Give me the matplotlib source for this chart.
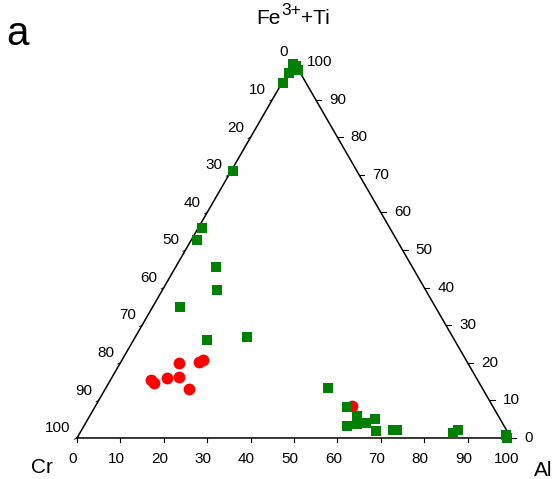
import numpy as np
import matplotlib.pyplot as plt

plt.rcParams['font.family'] = ['Liberation Sans', 'DejaVu Sans']

# ternary values in % (Cr is the rest)
al_green = [0, 1, 2, 0.9, 0.3, 0.2, 0.5, 0.9, 1.3, 9.3, 12.6, 6.3, 16.9, 25.7,
            51.2, 58.1, 61.6, 60.6, 62.7, 64.6, 66.1, 68.0, 71.8, 72.7, 86.0, 86.7, 98.5, 99.1]
fe_green = [99.5, 99, 98, 98.2, 97.1, 94.5, 71.0, 55.9, 52.7, 45.5, 39.4, 34.9, 26.1, 26.9,
            13.3, 8.3, 5.9, 3.2, 3.7, 4.0, 5.1, 1.9, 2.1, 2.1, 1.3, 2.1, 0.8, 0.0]
cr_green = [100 - a - f for a, f in zip(al_green, fe_green)]

al_red = [9.3, 10.4, 12.8, 13.5, 15.4, 19.3, 18.0, 18.7, 59.1]
fe_red = [15.4, 14.6, 16.0, 20.0, 16.2, 13.0, 20.2, 20.8, 8.5]
cr_red = [100 - a - f for a, f in zip(al_red, fe_red)]

ticks = [0, 10, 20, 30, 40, 50, 60, 70, 80, 90, 100]

H = np.sqrt(3) / 2


def tern(cr, al, fe):
    cr, al, fe = np.asarray(cr, float), np.asarray(al, float), np.asarray(fe, float)
    s = cr + al + fe
    al, fe = al / s * 100, fe / s * 100
    return al + fe / 2, fe * H


fig = plt.figure(figsize=(5.54, 4.79), dpi=100)
ax = fig.add_axes([0, 0, 1, 1])
ax.set_xlim(-17.74, 109.9)
ax.set_ylim(-9.45, 100.9)
ax.axis('off')

# triangle
ax.plot([0, 100, 50, 0], [0, 0, 100 * H, 0], color='black', lw=1.1, solid_joinstyle='miter')

# bottom axis (Al)
for t in ticks:
    ax.plot([t, t], [0, -0.9], color='black', lw=0.8)
    ax.annotate(str(t), (t, 0), xytext=(-3, -15), textcoords='offset points',
                ha='center', va='center', fontsize=11)

# right edge (Fe3+ + Ti)
for t in ticks:
    x, y = 100 - t / 2, t * H
    ax.plot([x, x + 1.2], [y, y], color='black', lw=0.8)
    ax.annotate(str(t), (x, y), xytext=(9.5, 0), textcoords='offset points',
                ha='left', va='center', fontsize=11)

# left edge (Cr)
for t in ticks:
    x, y = 50 - t / 2, (100 - t) * H
    ax.plot([x, x - 0.6], [y, y - 0.3], color='black', lw=0.6)
    ax.annotate(str(t), (x, y), xytext=(-4.5, 7), textcoords='offset points',
                ha='right', va='center', fontsize=11)

xr, yr = tern(cr_red, al_red, fe_red)
ax.plot(xr, yr, 'o', color='red', markersize=8.5, markeredgewidth=0, zorder=3)
xg, yg = tern(cr_green, al_green, fe_green)
ax.plot(xg, yg, 's', color='green', markersize=7.6, markeredgewidth=0, zorder=4)

ax.text(-8.06, -6.9, 'Cr', fontsize=15, ha='center', va='center')
ax.text(107.4, -7.4, 'Al', fontsize=15, ha='center', va='center')

# apex label built from pieces so the superscript keeps a large size
renderer = fig.canvas.get_renderer()
pieces = [('Fe', 15, 0), ('3+', 12.5, 9), ('+Ti', 15, 0)]
x0 = 256
for s, fs, dy in pieces:
    t = fig.text(x0 / 554, 1 - (24 - dy) / 479, s, fontsize=fs, ha='left', va='baseline')
    x0 += t.get_window_extent(renderer).width + 0.5

fig.text(17 / 554, 1 - 34 / 479, 'a', fontsize=29, ha='center', va='center')

fig.savefig('out.png', dpi=100)
